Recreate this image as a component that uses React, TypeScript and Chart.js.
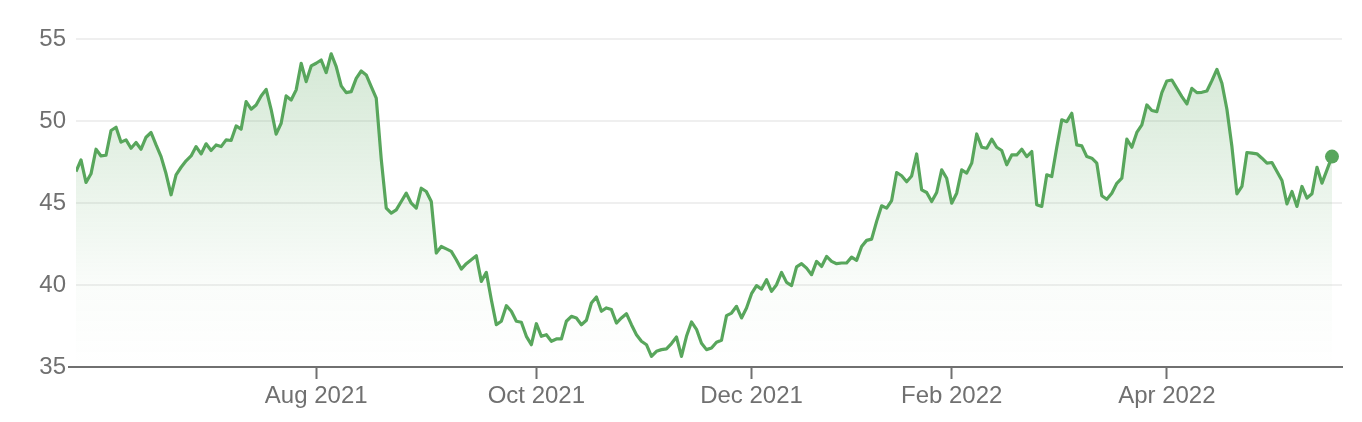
import React, { useEffect, useRef } from 'react';
import { Chart, registerables } from 'chart.js';

Chart.register(...registerables);

// Daily closing prices (trading days)
const prices: number[] = [
  46.92, 47.63, 46.25, 46.78, 48.28, 47.87, 47.91, 49.42, 49.62, 48.71,
  48.85, 48.34, 48.69, 48.28, 49.01, 49.30, 48.54, 47.83, 46.78, 45.50,
  46.72, 47.18, 47.57, 47.87, 48.44, 47.99, 48.61, 48.20, 48.54, 48.44,
  48.85, 48.81, 49.70, 49.50, 51.18, 50.72, 50.98, 51.53, 51.93, 50.70,
  49.20, 49.86, 51.53, 51.28, 51.90, 53.52, 52.40, 53.36, 53.52, 53.72,
  52.95, 54.10, 53.32, 52.14, 51.73, 51.79, 52.60, 53.05, 52.81, 52.10,
  51.39, 47.67, 44.69, 44.38, 44.58, 45.09, 45.60, 44.99, 44.69, 45.90,
  45.70, 45.09, 41.95, 42.35, 42.20, 42.05, 41.54, 40.97, 41.30, 41.54,
  41.78, 40.22, 40.77, 39.10, 37.58, 37.79, 38.74, 38.40, 37.79, 37.73,
  36.87, 36.36, 37.64, 36.87, 36.97, 36.57, 36.71, 36.71, 37.79, 38.09,
  37.99, 37.58, 37.85, 38.90, 39.27, 38.40, 38.60, 38.50, 37.68, 37.99,
  38.25, 37.58, 36.97, 36.57, 36.36, 35.65, 35.96, 36.06, 36.10, 36.43,
  36.83, 35.65, 36.87, 37.75, 37.30, 36.45, 36.06, 36.16, 36.51, 36.63,
  38.13, 38.29, 38.70, 37.99, 38.60, 39.47, 39.96, 39.75, 40.32, 39.61,
  40.02, 40.77, 40.16, 39.96, 41.10, 41.30, 41.03, 40.63, 41.44, 41.13,
  41.74, 41.44, 41.30, 41.34, 41.34, 41.70, 41.50, 42.35, 42.72, 42.80,
  43.88, 44.83, 44.69, 45.15, 46.86, 46.66, 46.30, 46.65, 47.99, 45.80,
  45.64, 45.09, 45.64, 47.02, 46.51, 44.99, 45.60, 47.02, 46.82, 47.43,
  49.21, 48.40, 48.34, 48.89, 48.40, 48.20, 47.33, 47.93, 47.93, 48.28,
  47.83, 48.14, 44.89, 44.79, 46.72, 46.61, 48.40, 50.07, 49.96, 50.47,
  48.54, 48.48, 47.83, 47.73, 47.43, 45.44, 45.23, 45.60, 46.20, 46.51,
  48.89, 48.40, 49.30, 49.76, 50.98, 50.64, 50.57, 51.73, 52.44, 52.50,
  51.99, 51.49, 51.04, 51.99, 51.73, 51.75, 51.83, 52.46, 53.15, 52.30,
  50.72, 48.44, 45.56, 46.01, 48.08, 48.04, 48.00, 47.73, 47.43, 47.47,
  46.92, 46.37, 44.95, 45.70, 44.79, 46.01, 45.30, 45.56, 47.18, 46.21,
  47.02, 47.83,
];

// Month labels and the trading-day index where each month starts
const tickLabels: string[] = ['Aug 2021', 'Oct 2021', 'Dec 2021', 'Feb 2022', 'Apr 2022'];
const tickDayIndex: number[] = [48, 92, 135, 175, 218];

const yMin = 35;
const yMax = 55;
const yStep = 5;
const xMaxIndex = 253;

const GREEN = 'rgb(88,166,92)';
const TEXT = '#707070';
const FONT = "'Liberation Sans', Arial, Helvetica, sans-serif";

export default function App() {
  const ref = useRef<HTMLCanvasElement | null>(null);

  useEffect(() => {
    const canvas = ref.current;
    if (!canvas) return;
    const lastIdx = prices.length - 1;
    const chart = new Chart(canvas, {
      type: 'line',
      data: {
        datasets: [
          {
            data: prices.map((v, i) => ({ x: i, y: v })),
            borderColor: GREEN,
            borderWidth: 3.2,
            borderJoinStyle: 'round',
            tension: 0,
            fill: 'start',
            backgroundColor: (c: any) => {
              const ch = c.chart;
              const area = ch.chartArea;
              if (!area) return 'rgba(88,166,92,0.1)';
              const g = ch.ctx.createLinearGradient(0, area.top, 0, area.bottom);
              g.addColorStop(0, 'rgba(88,166,92,0.27)');
              g.addColorStop(0.75, 'rgba(88,166,92,0.03)');
              g.addColorStop(1, 'rgba(88,166,92,0)');
              return g;
            },
            pointRadius: (c: any) => (c.dataIndex === lastIdx ? 7 : 0),
            pointBackgroundColor: GREEN,
            pointBorderWidth: 0,
            pointHoverRadius: 0,
          },
        ],
      },
      options: {
        animation: false,
        responsive: false,
        devicePixelRatio: 1,
        layout: { padding: { top: 39, right: 20, left: 0, bottom: 0 } },
        plugins: {
          legend: { display: false },
          tooltip: { enabled: false },
        },
        scales: {
          x: {
            type: 'linear',
            min: 0,
            max: xMaxIndex,
            afterBuildTicks: (scale: any) => {
              scale.ticks = tickDayIndex.map((v) => ({ value: v }));
            },
            afterFit: (scale: any) => {
              scale.height = 55;
            },
            grid: {
              drawOnChartArea: false,
              drawTicks: true,
              tickLength: 12,
              tickColor: TEXT,
              tickWidth: 2,
            },
            border: { display: true, color: TEXT, width: 2 },
            ticks: {
              autoSkip: false,
              maxRotation: 0,
              padding: 3,
              color: TEXT,
              font: { size: 24, family: FONT },
              callback: (value: any) => {
                const k = tickDayIndex.indexOf(Number(value));
                return k >= 0 ? tickLabels[k] : '';
              },
            },
          },
          y: {
            min: yMin,
            max: yMax,
            afterFit: (scale: any) => {
              scale.width = 76;
            },
            grid: {
              color: '#efefef',
              lineWidth: 2,
              drawTicks: true,
              tickLength: 8,
              tickWidth: 2,
              tickColor: (c: any) => (c.tick && c.tick.value === yMin ? TEXT : 'rgba(0,0,0,0)'),
            },
            border: { display: false },
            ticks: {
              stepSize: yStep,
              padding: 2,
              color: TEXT,
              font: { size: 24, family: FONT },
            },
          },
        },
      },
    });
    return () => chart.destroy();
  }, []);

  return (
    <div style={{ position: 'absolute', left: 0, top: 0, width: 1362, height: 422, background: '#fff' }}>
      <canvas ref={ref} width={1362} height={422} style={{ width: 1362, height: 422, display: 'block' }} />
    </div>
  );
}
